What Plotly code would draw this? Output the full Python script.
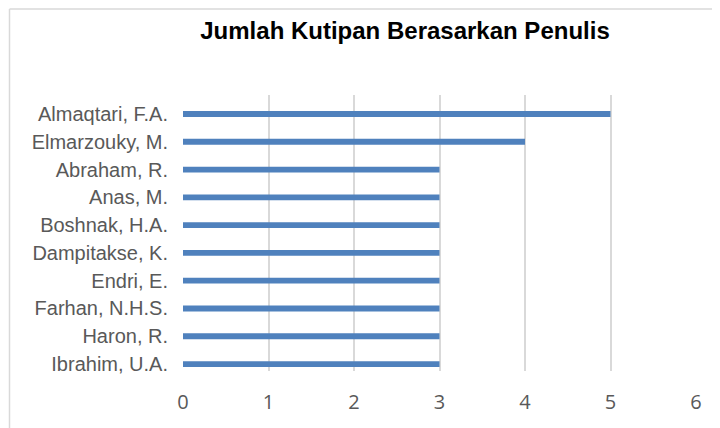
import plotly.graph_objects as go

authors = ["Almaqtari, F.A.", "Elmarzouky, M.", "Abraham, R.", "Anas, M.", "Boshnak, H.A.",
           "Dampitakse, K.", "Endri, E.", "Farhan, N.H.S.", "Haron, R.", "Ibrahim, U.A."]
citations = [5, 4, 3, 3, 3, 3, 3, 3, 3, 3]
x_ticks = [0, 1, 2, 3, 4, 5, 6]
title = "Jumlah Kutipan Berasarkan Penulis"

# page has an 8px body margin, so the figure is drawn 712x420
W, H = 712, 420
L, T = 175, 87
pw, ph = 513, 276
R, B = W - L - pw, H - T - ph

fig = go.Figure(go.Bar(
    y=authors, x=citations, orientation="h",
    marker=dict(color="#4f81bd", line=dict(width=0)),
    width=0.21,
))

bx = (1.5 - L) / pw
by = (T + ph - 1) / ph

fig.update_layout(
    width=W, height=H,
    margin=dict(l=L, r=R, t=T, b=B),
    paper_bgcolor="white", plot_bgcolor="white",
    showlegend=False,
    title=dict(text="<b>" + title + "</b>", x=397 / W, xanchor="center",
               y=1 - 23 / H, yanchor="middle",
               font=dict(family="Liberation Sans, Arial", size=24, color="#000000")),
    xaxis=dict(range=[0, 6], tickvals=x_ticks, showgrid=True, gridcolor="#d9d9d9", gridwidth=1.5,
               zeroline=False, showline=False, ticks="",
               tickfont=dict(family="Open Sans, Liberation Sans", size=20, color="#595959"),
               ticklabelstandoff=17),
    yaxis=dict(categoryorder="array", categoryarray=authors,
               range=[9.25, -0.684], showgrid=False, zeroline=False, showline=False, ticks="",
               tickfont=dict(family="Liberation Sans, Arial", size=20, color="#595959"),
               ticklabelstandoff=14),
    shapes=[
        dict(type="line", xref="paper", yref="paper", x0=bx, x1=bx,
             y0=-(B + 20) / ph, y1=by, line=dict(color="#d9d9d9", width=1.5)),
        dict(type="line", xref="paper", yref="paper", x0=bx, x1=(W + 20 - L) / pw,
             y0=by, y1=by, line=dict(color="#d9d9d9", width=1.5)),
    ],
)

fig.write_html("out.html")
